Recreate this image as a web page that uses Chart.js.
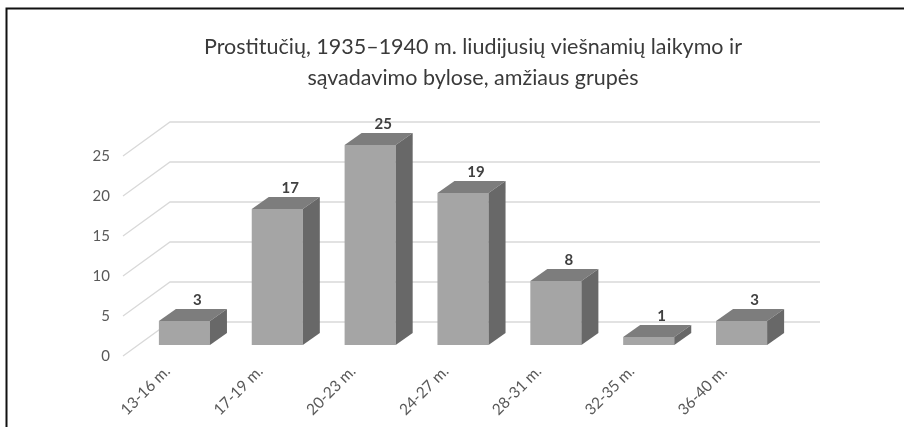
<!DOCTYPE html>
<html>
<head>
<meta charset="utf-8">
<script src="https://cdn.jsdelivr.net/npm/chart.js@4.4.0/dist/chart.umd.min.js"></script>
<style>
  html, body { margin: 0; padding: 0; background: #fff; }
</style>
</head>
<body>
<canvas id="ageChart" width="904" height="427"></canvas>
<script>
// Data
const titleLines = ['Prostitučių, 1935–1940 m. liudijusių viešnamių laikymo ir', 'sąvadavimo bylose, amžiaus grupės'];
const ageGroups = ['13-16 m.', '17-19 m.', '20-23 m.', '24-27 m.', '28-31 m.', '32-35 m.', '36-40 m.'];
const womenCounts = [3, 17, 25, 19, 8, 1, 3];
const yTicks = [0, 5, 10, 15, 20, 25];

// fake excel-like 3D: offsets from the bar front plane
const barDepth = { dx: 17, dy: -12 };
const wallDepth = { dx: 32, dy: -23 };
const floorFront = { dx: -15, dy: 11 };

const fake3d = {
    id: 'fake3d',
    beforeDatasetsDraw(chart) {
        const { ctx, chartArea, scales } = chart;
        ctx.save();
        ctx.strokeStyle = '#d9d9d9';
        ctx.lineWidth = 1.3;
        yTicks.forEach(v => {
            const y = scales.y.getPixelForValue(v);
            const bx = chartArea.left + wallDepth.dx;
            const by = y + wallDepth.dy;
            ctx.beginPath();
            ctx.moveTo(chartArea.left + floorFront.dx, y + floorFront.dy);
            ctx.lineTo(bx, by);
            ctx.lineTo(chartArea.right + wallDepth.dx, by);
            ctx.stroke();
        });
        ctx.restore();
    },
    afterDatasetsDraw(chart) {
        const { ctx } = chart;
        const meta = chart.getDatasetMeta(0);
        ctx.save();
        meta.data.forEach((bar, i) => {
            const x0 = bar.x - bar.width / 2;
            const x1 = bar.x + bar.width / 2;
            const top = bar.y;
            const base = bar.base;
            // top face
            ctx.fillStyle = '#7d7d7d';
            ctx.beginPath();
            ctx.moveTo(x0, top);
            ctx.lineTo(x1, top);
            ctx.lineTo(x1 + barDepth.dx, top + barDepth.dy);
            ctx.lineTo(x0 + barDepth.dx, top + barDepth.dy);
            ctx.closePath();
            ctx.fill();
            // side face
            ctx.fillStyle = '#686868';
            ctx.beginPath();
            ctx.moveTo(x1, top);
            ctx.lineTo(x1 + barDepth.dx, top + barDepth.dy);
            ctx.lineTo(x1 + barDepth.dx, base + barDepth.dy);
            ctx.lineTo(x1, base);
            ctx.closePath();
            ctx.fill();
            // value label
            ctx.fillStyle = '#404040';
            ctx.font = 'bold 15px Lato, sans-serif';
            ctx.textAlign = 'center';
            ctx.textBaseline = 'middle';
            ctx.fillText(String(womenCounts[i]), bar.x + 13, top + barDepth.dy - 9);
        });
        ctx.restore();
    },
    afterDraw(chart) {
        const { ctx, width, height } = chart;
        ctx.save();
        ctx.strokeStyle = '#111';
        ctx.lineWidth = 2;
        ctx.beginPath();
        ctx.moveTo(6.5, height + 5);
        ctx.lineTo(6.5, 8.5);
        ctx.lineTo(width + 5, 8.5);
        ctx.stroke();
        ctx.restore();
    }
};

new Chart(document.getElementById('ageChart'), {
    type: 'bar',
    data: {
        labels: ageGroups,
        datasets: [{
            data: womenCounts,
            backgroundColor: '#a5a5a5',
            borderWidth: 0,
            barPercentage: 0.55,
            categoryPercentage: 1
        }]
    },
    options: {
        responsive: false,
        animation: false,
        layout: { padding: { left: 42, right: 0, top: 0, bottom: 0 } },
        scales: {
            x: {
                ticks: {
                    autoSkip: false,
                    minRotation: 45,
                    maxRotation: 45,
                    padding: 17,
                    labelOffset: -17,
                    color: '#595959',
                    font: { family: 'Lato, sans-serif', size: 15.5 }
                },
                grid: { display: false, drawTicks: false },
                border: { display: false },
                afterFit: s => { s.height = 82; }
            },
            y: {
                min: 0,
                max: 25,
                afterBuildTicks: s => { s.ticks = yTicks.map(v => ({ value: v })); },
                ticks: {
                    padding: 28,
                    labelOffset: 11,
                    color: '#595959',
                    font: { family: 'Lato, sans-serif', size: 15 }
                },
                grid: { display: false, drawTicks: false },
                border: { display: false },
                afterFit: s => { s.width = 96; }
            },
            // empty right axis, only to leave room right of the wall
            yRoom: {
                type: 'linear',
                position: 'right',
                ticks: { display: false },
                grid: { display: false, drawTicks: false },
                border: { display: false },
                afterFit: s => { s.width = 116; }
            }
        },
        plugins: {
            legend: { display: false },
            tooltip: { enabled: false },
            title: {
                display: true,
                text: titleLines,
                color: '#3a3a3a',
                font: { family: 'Lato, sans-serif', size: 21.5, weight: 'normal', lineHeight: '31px' },
                padding: { top: 32, bottom: 51 }
            }
        }
    },
    plugins: [fake3d]
});
</script>
</body>
</html>
